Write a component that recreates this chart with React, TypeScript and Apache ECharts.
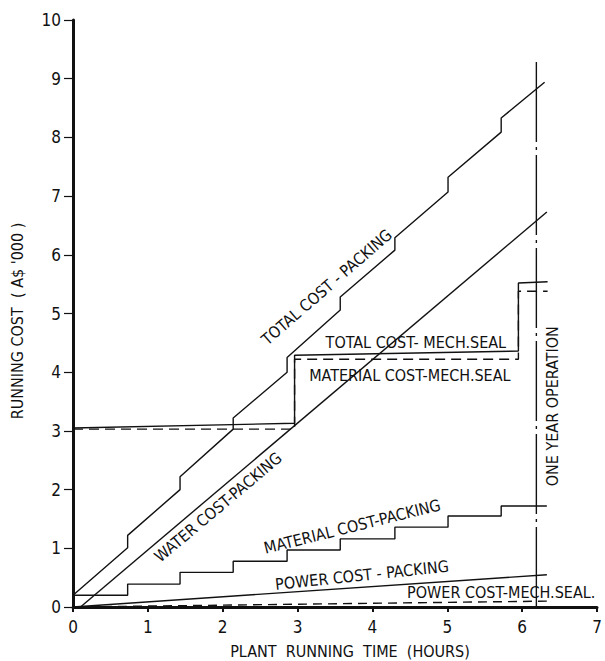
import React, { useEffect, useRef } from "react";
import * as echarts from "echarts";

// ---- data (x: plant running time, y: running cost A$'000) ----
const xTickValues = [0, 1, 2, 3, 4, 5, 6, 7];
const yTickValues = [0, 1, 2, 3, 4, 5, 6, 7, 8, 9, 10];

// Total cost - packing (x, before-step value, after-step value)
const totalPackingStepX = [0.73, 1.43, 2.14, 2.86, 3.57, 4.30, 5.01, 5.72];
const totalPackingBefore = [1.01, 2.0, 3.03, 4.0, 5.06, 6.08, 7.07, 8.09];
const totalPackingAfter = [1.22, 2.22, 3.22, 4.25, 5.28, 6.29, 7.32, 8.33];
const totalPackingStart = [0, 0.2];
const totalPackingEnd = [6.30, 8.94];

// Water cost - packing
const waterPacking = [[0.1, 0], [6.33, 6.73]];

// Material cost - packing (stair levels)
const materialPackingX = [0, 0.73, 1.43, 2.14, 2.86, 3.57, 4.30, 5.01, 5.72, 6.33];
const materialPackingLevel = [0.20, 0.39, 0.59, 0.78, 0.97, 1.16, 1.36, 1.55, 1.72];

// Power cost - packing / mech seal
const powerPacking = [[0, 0], [6.33, 0.55]];
const powerMechSeal = [[0, 0], [6.33, 0.1]];

// Material cost - mech seal (stair levels)
const materialSealX = [0, 2.96, 5.95, 6.34];
const materialSealLevel = [3.03, 4.22, 5.38];

// Total cost - mech seal
const totalSeal = [[0, 3.05], [2.96, 3.13], [2.96, 4.29], [5.95, 4.36], [5.95, 5.52], [6.34, 5.54]];

// One year operation marker
const oneYearX = 6.19;
const oneYearTop = 9.32;

// annotations: [text, x, y, angleDeg]
const annotations: [string, number, number, number][] = [
  ["TOTAL COST - PACKING", 3.39, 5.45, 41],
  ["WATER COST-PACKING", 1.94, 1.70, 40],
  ["MATERIAL COST-PACKING", 3.73, 1.37, 14],
  ["POWER COST - PACKING", 3.86, 0.54, 6],
  ["POWER COST-MECH.SEAL.", 5.72, 0.24, 0],
  ["TOTAL COST- MECH.SEAL", 4.58, 4.5, 0],
  ["MATERIAL COST-MECH.SEAL", 4.5, 3.95, 0],
  ["ONE YEAR OPERATION", 6.41, 3.42, 90],
];

const FONT = "'DejaVu Sans Condensed', 'DejaVu Sans', sans-serif";
const INK = "#111";

function stairs(xs: number[], levels: number[]): number[][] {
  const pts: number[][] = [];
  for (let i = 0; i < levels.length; i++) {
    pts.push([xs[i], levels[i]]);
    pts.push([xs[i + 1], levels[i]]);
  }
  return pts;
}

function totalPackingPoints(): number[][] {
  const pts: number[][] = [totalPackingStart];
  for (let i = 0; i < totalPackingStepX.length; i++) {
    pts.push([totalPackingStepX[i], totalPackingBefore[i]]);
    pts.push([totalPackingStepX[i], totalPackingAfter[i]]);
  }
  pts.push(totalPackingEnd);
  return pts;
}

function lineSeries(name: string, data: number[][], type: any = "solid", width = 1.4) {
  return {
    name,
    type: "line",
    data,
    showSymbol: false,
    symbol: "none",
    silent: true,
    lineStyle: { color: INK, width, type },
  };
}

export default function App() {
  const ref = useRef<HTMLDivElement>(null);
  useEffect(() => {
    document.body.style.margin = "0";
    const chart = echarts.init(ref.current!, null, { renderer: "svg" });
    chart.setOption({
      animation: false,
      backgroundColor: "#fff",
      textStyle: { fontFamily: FONT },
      grid: { left: 73, right: 8, top: 20, bottom: 54, containLabel: false },
      xAxis: {
        type: "value",
        min: 0,
        max: 7,
        interval: 1,
        splitLine: { show: false },
        axisLine: { show: true, lineStyle: { color: INK, width: 3 } },
        axisTick: { show: true, length: 5, lineStyle: { color: INK, width: 2 } },
        axisLabel: {
          color: INK,
          fontSize: 17,
          margin: 11,
          fontFamily: FONT,
          formatter: (v: number) => (xTickValues.includes(v) ? String(v) : ""),
        },
      },
      yAxis: {
        type: "value",
        min: 0,
        max: 10,
        interval: 1,
        splitLine: { show: false },
        axisLine: { show: true, lineStyle: { color: INK, width: 3 } },
        axisTick: { show: true, length: 9, lineStyle: { color: INK, width: 1.2 } },
        axisLabel: {
          color: INK,
          fontSize: 17,
          margin: 12,
          fontFamily: FONT,
          formatter: (v: number) => (yTickValues.includes(v) ? String(v) : ""),
        },
      },
      series: [
        lineSeries("Total cost - packing", totalPackingPoints()),
        lineSeries("Water cost - packing", waterPacking),
        lineSeries("Material cost - packing", stairs(materialPackingX, materialPackingLevel)),
        lineSeries("Power cost - packing", powerPacking),
        lineSeries("Power cost - mech seal", powerMechSeal, [9, 6], 1.4),
        lineSeries("Material cost - mech seal", stairs(materialSealX, materialSealLevel), [10, 6], 1.4),
        lineSeries("Total cost - mech seal", totalSeal),
        lineSeries("One year operation", [[oneYearX, 0], [oneYearX, oneYearTop]], [80, 5, 3, 5], 1.4),
      ],
    });

    const graphics: any[] = annotations.map(([text, x, y, ang]) => {
      const p = chart.convertToPixel({ gridIndex: 0 }, [x, y]) as number[];
      return {
        type: "text",
        x: p[0],
        y: p[1],
        rotation: (ang * Math.PI) / 180,
        silent: true,
        style: {
          text,
          fill: INK,
          font: `16px ${FONT}`,
          textAlign: "center",
          textVerticalAlign: "middle",
        },
      };
    });
    graphics.push({
      type: "text",
      x: 350,
      y: 651,
      silent: true,
      style: {
        text: "PLANT  RUNNING  TIME  (HOURS)",
        fill: INK,
        font: `16px ${FONT}`,
        textAlign: "center",
        textVerticalAlign: "middle",
      },
    });
    graphics.push({
      type: "text",
      x: 17,
      y: 321,
      rotation: Math.PI / 2,
      silent: true,
      style: {
        text: "RUNNING COST  ( A$ '000 )",
        fill: INK,
        font: `16px ${FONT}`,
        textAlign: "center",
        textVerticalAlign: "middle",
      },
    });
    chart.setOption({ graphic: graphics });

    return () => chart.dispose();
  }, []);
  return <div ref={ref} style={{ width: 605, height: 661 }} />;
}
